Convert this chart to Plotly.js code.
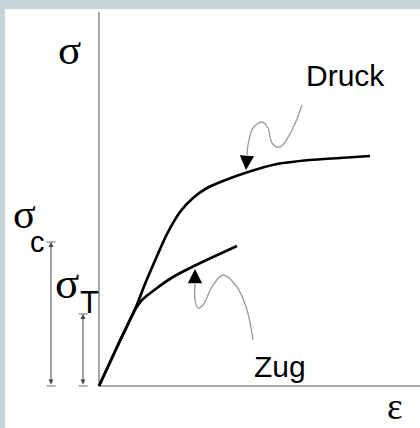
<!DOCTYPE html>
<html><head><meta charset="utf-8">
<script src="https://cdn.plot.ly/plotly-3.0.1.min.js"></script>
<style>html,body{margin:0;padding:0;background:#fff;overflow:hidden}#chart{width:420px;height:428px}</style>
</head><body><div id="chart"></div>
<script>
// Druck (compression) curve: strain vs stress
const druckStrain = [0, 0.19, 0.37, 0.46, 0.58, 0.68, 0.81, 0.94, 1.08, 1.24, 1.46, 1.78, 2.11, 2.41, 2.71];
const druckStress = [0, 0.41, 0.79, 1.02, 1.30, 1.52, 1.74, 1.88, 1.98, 2.05, 2.13, 2.22, 2.26, 2.28, 2.30];
// Zug (tension) curve
const zugStrain = [0, 0.19, 0.37, 0.43, 0.58, 0.74, 0.91, 1.14, 1.38];
const zugStress = [0, 0.41, 0.78, 0.86, 0.98, 1.09, 1.18, 1.29, 1.40];
// strengths
const sigmaC = 1.44;
const sigmaT = 0.72;
// axis extents
const strainMax = 3.3;
const stressMax = 3.74;
// pointer (wavy leader) curves
const druckPtrX = [2.03, 1.94, 1.81, 1.73, 1.69, 1.63, 1.54, 1.49, 1.48];
const druckPtrY = [2.81, 2.58, 2.39, 2.43, 2.58, 2.64, 2.58, 2.41, 2.31];
const druckTip = [1.47, 2.16];
const zugPtrX = [1.54, 1.48, 1.38, 1.24, 1.13, 1.04, 0.99, 0.96, 0.96];
const zugPtrY = [0.46, 0.76, 0.99, 1.11, 0.99, 0.81, 0.78, 0.86, 1.02];
const zugTip = [0.96, 1.17];
// labels
const labelDruck = 'Druck';
const labelZug = 'Zug';
const labelSigma = 'σ';
const labelEps = 'ε';
const subC = 'c';
const subT = 'T';

const xC = -0.48, xT = -0.16, capHalf = 0.045;
const gray = '#a9a9a9';

const traces = [
  { x: [0, 0, null, 0, strainMax], y: [stressMax, 0, null, 0, 0], mode: 'lines',
    line: { color: gray, width: 2 }, hoverinfo: 'skip' },
  { x: [xC - capHalf, xC + capHalf, null, xC - capHalf, xC + capHalf, null,
        xT - capHalf, xT + capHalf, null, xT - capHalf, xT + capHalf],
    y: [sigmaC, sigmaC, null, 0, 0, null, sigmaT, sigmaT, null, 0, 0], mode: 'lines',
    line: { color: '#b5b5b5', width: 2 }, hoverinfo: 'skip' },
  { x: druckPtrX, y: druckPtrY, mode: 'lines', line: { color: '#9a9a9a', width: 1.3, shape: 'spline', smoothing: 1 } },
  { x: zugPtrX, y: zugPtrY, mode: 'lines', line: { color: '#9a9a9a', width: 1.3, shape: 'spline', smoothing: 1 } },
  { x: druckStrain, y: druckStress, mode: 'lines', line: { color: '#000', width: 2.7, shape: 'spline', smoothing: 0.7 } },
  { x: zugStrain, y: zugStress, mode: 'lines', line: { color: '#000', width: 2.7, shape: 'spline', smoothing: 0.6 } }
];

function txt(t, x, y, size, fam) {
  return { text: t, x: x, y: y, xref: 'x', yref: 'y', showarrow: false,
    xanchor: 'center', yanchor: 'middle', font: { family: fam, size: size, color: '#000' } };
}
const serif = 'Liberation Serif, Times New Roman, serif';
const sans = 'Liberation Sans, Arial, sans-serif';

const annotations = [
  txt(labelSigma, -0.295, 3.37, 43, serif),
  txt(labelSigma, -0.745, 1.72, 42, serif),
  txt(subC, -0.62, 1.44, 29, sans),
  txt(labelSigma, -0.32, 1.03, 45, serif),
  txt(subT, -0.10, 0.835, 31, sans),
  txt(labelDruck, 2.465, 3.105, 30, sans),
  txt(labelZug, 1.81, 0.195, 30, sans),
  txt(labelEps, 2.955, -0.20, 37, serif),
  // double-headed dimension arrows
  { text: '', x: xC, y: sigmaC, ax: xC, ay: 0, xref: 'x', yref: 'y', axref: 'x', ayref: 'y',
    showarrow: true, arrowside: 'end+start', arrowhead: 2, arrowsize: 1, arrowwidth: 1, arrowcolor: '#444', standoff: 0, startstandoff: 0 },
  { text: '', x: xT, y: sigmaT, ax: xT, ay: 0, xref: 'x', yref: 'y', axref: 'x', ayref: 'y',
    showarrow: true, arrowside: 'end+start', arrowhead: 2, arrowsize: 1, arrowwidth: 1, arrowcolor: '#444', standoff: 0, startstandoff: 0 },
  // pointer arrowheads
  { text: '', x: druckTip[0], y: druckTip[1], ax: druckPtrX[druckPtrX.length - 1], ay: druckPtrY[druckPtrY.length - 1],
    xref: 'x', yref: 'y', axref: 'x', ayref: 'y', showarrow: true, arrowhead: 2, arrowsize: 1.9, arrowwidth: 1.5, arrowcolor: '#000', standoff: 0 },
  { text: '', x: zugTip[0], y: zugTip[1], ax: zugPtrX[zugPtrX.length - 1], ay: zugPtrY[zugPtrY.length - 1],
    xref: 'x', yref: 'y', axref: 'x', ayref: 'y', showarrow: true, arrowhead: 2, arrowsize: 1.9, arrowwidth: 1.5, arrowcolor: '#000', standoff: 0 }
];

const layout = {
  width: 420, height: 428, autosize: false,
  margin: { l: 5, r: 0, t: 9, b: 0, pad: 0 },
  paper_bgcolor: '#c6d4da', plot_bgcolor: '#ffffff',
  showlegend: false,
  xaxis: { visible: false, range: [-0.94, 3.21], fixedrange: true },
  yaxis: { visible: false, range: [-0.42, 3.77], fixedrange: true },
  annotations: annotations
};

Plotly.newPlot('chart', traces, layout, { displayModeBar: false, staticPlot: true });
</script>
</body></html>
